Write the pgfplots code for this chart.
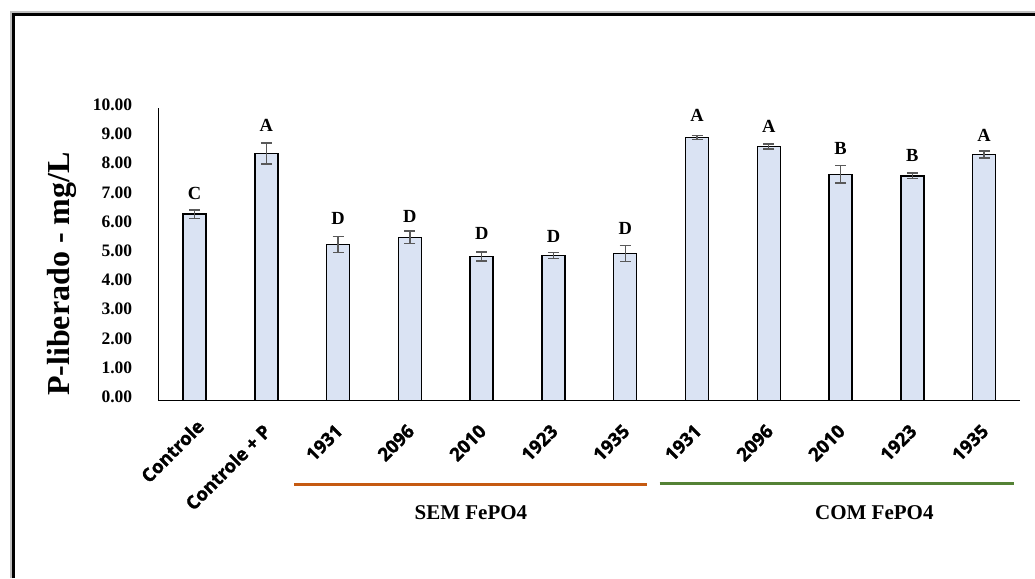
\documentclass[border=0pt]{standalone}
\usepackage{fontspec}
\setmainfont{Liberation Serif}
\newfontfamily\catfont{Open Sans}[BoldFeatures={FakeBold=1.3}]
\usepackage{pgfplots}
\pgfplotsset{compat=1.18}
\usepackage{pgfplotstable}
\definecolor{barfill}{HTML}{DAE3F3}
\definecolor{errgray}{HTML}{595959}
\definecolor{semorange}{HTML}{C55A11}
\definecolor{comgreen}{HTML}{548235}

\pgfplotstableread{
x y err lab ly
0 6.38 0.14 C 7.09
1 8.45 0.36 A 9.40
2 5.34 0.28 D 6.24
3 5.59 0.22 D 6.29
4 4.93 0.15 D 5.72
5 4.97 0.10 D 5.61
6 5.03 0.27 D 5.90
7 9.00 0.07 A 9.75
8 8.69 0.085 A 9.39
9 7.74 0.30 B 8.61
10 7.69 0.10 B 8.38
11 8.42 0.12 A 9.06
}\datatable

\begin{document}
\begin{tikzpicture}[x=1pt,y=1pt]
\useasboundingbox (0,0) rectangle (1035,578);
\draw[line width=1.5pt, black!25] (11,0) -- (11,566) -- (1035,566);
\draw[line width=2.8pt, black] (13.6,0) -- (13.6,563.8) -- (1035,563.8);
\begin{axis}[
  at={(158.7pt,177.3pt)}, anchor=south west,
  scale only axis, width=861.3pt, height=292.4pt,
  xmin=-0.5, xmax=11.5, ymin=0, ymax=10,
  axis lines*=left,
  x axis line style={line width=1.3pt, black},
  y axis line style={line width=0.9pt, black},
  major tick length=0pt,
  ytick={0,1,...,10},
  scaled y ticks=false,
  yticklabel style={font=\bfseries\fontsize{17.5}{20}\selectfont, yshift=3.7pt, xshift=-23pt,
    /pgf/number format/.cd, fixed, fixed zerofill, precision=2, assume math mode=true},
  xtick={0,1,...,11},
  xticklabels={Controle\kern-7pt, Controle + P, 1931, 2096, 2010, 1923, 1935, 1931, 2096, 2010, 1923, 1935},
  xticklabel style={yshift=-27pt, xshift=1pt, rotate=45, anchor=east, inner sep=0pt,
    font=\catfont\bfseries\fontsize{18.5}{20}\selectfont},
  ylabel={P-liberado - mg/L},
  every axis y label/.style={at={(axis description cs:-0.103,0.433)}, rotate=90, anchor=base,
    font=\bfseries\fontsize{32}{36}\selectfont},
  clip=false,
]
\addplot[ybar, bar width=23pt, fill=barfill, draw=black, line width=1.4pt,
  error bars/.cd, y dir=both, y explicit,
  error bar style={errgray, line width=1.4pt},
  error mark options={errgray, line width=1.4pt, mark size=5.5pt, rotate=90}]
  table[x=x, y=y, y error=err] \datatable;
\addplot[only marks, mark=*, mark size=0pt, mark options={draw=none, fill=none},
  nodes near coords, point meta=explicit symbolic,
  nodes near coords style={anchor=center, inner sep=0pt, text=black,
    font=\bfseries\fontsize{18.5}{20}\selectfont}]
  table[x=x, y=ly, meta=lab] \datatable;
\draw[semorange, line width=3.3pt] (axis cs:1.386,-2.87) -- (axis cs:6.31,-2.87);
\draw[comgreen, line width=3.3pt] (axis cs:6.48,-2.82) -- (axis cs:11.41,-2.82);
\node[font=\bfseries\fontsize{21}{24}\selectfont] at (axis cs:3.85,-3.82) {SEM FePO4};
\node[font=\bfseries\fontsize{21}{24}\selectfont] at (axis cs:9.47,-3.82) {COM FePO4};
\end{axis}
\end{tikzpicture}
\end{document}
